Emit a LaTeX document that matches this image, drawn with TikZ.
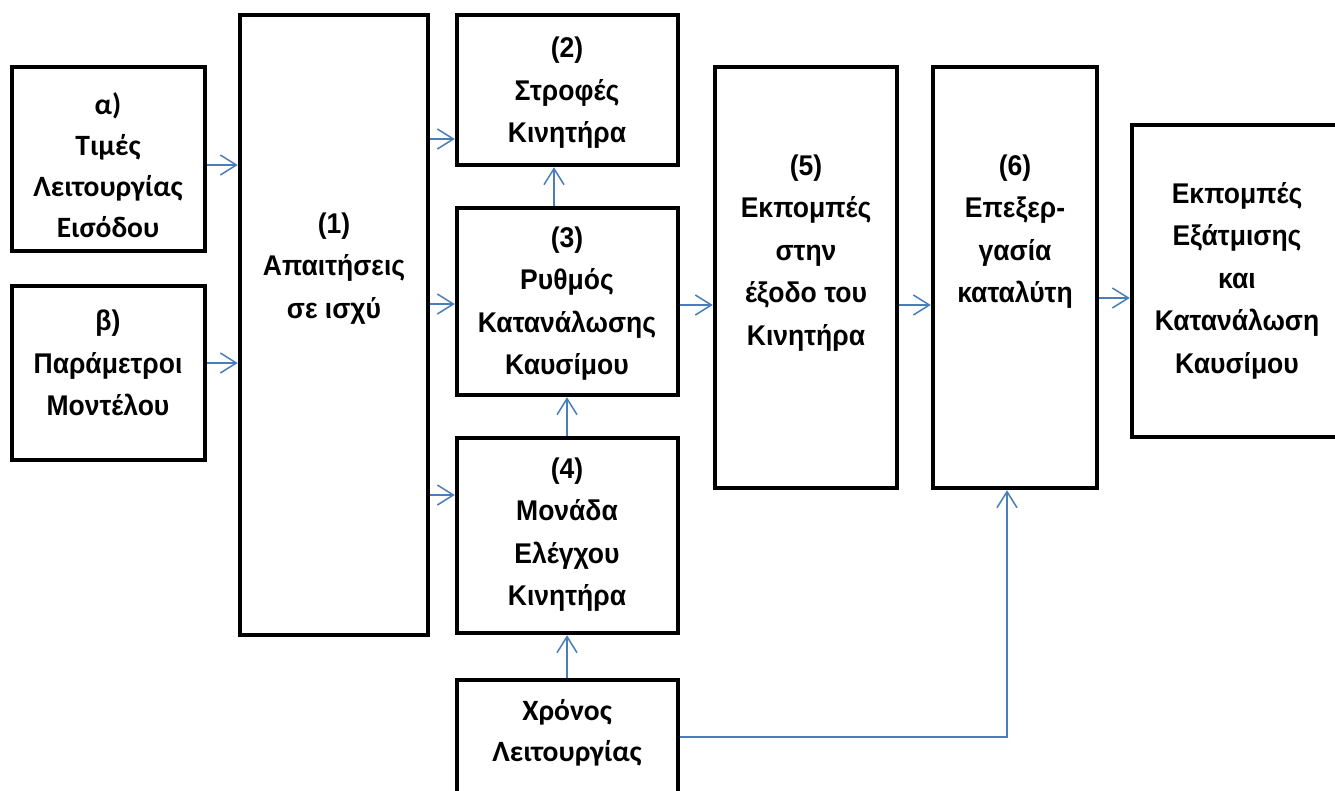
\documentclass[tikz,border=0pt]{standalone}
\usepackage{fontspec}
\setmainfont{Liberation Sans}[FakeStretch=0.93]
\newfontfamily\calfont{Carlito}
\usetikzlibrary{arrows.meta}
\definecolor{arrowblue}{RGB}{74,126,187}
\begin{document}
\begin{tikzpicture}[x=1pt,y=-1pt,
  box/.style={draw=black,line width=4.5pt,rectangle,inner sep=0pt,fill=white},
  lbl/.style={align=center,font=\fontsize{28.5}{42.5}\selectfont\bfseries,inner sep=0pt},
  clbl/.style={align=center,font=\fontsize{29.5}{41}\selectfont\calfont\bfseries,inner sep=0pt},
  arr/.style={draw=arrowblue,line width=1.5pt,-{Straight Barb[length=16pt,width=20pt,line width=1.5pt]}},
  conn/.style={draw=arrowblue,line width=1.5pt}]
\useasboundingbox[fill=white] (0,0) rectangle (1335,790);
% boxes
\node[box,minimum width=193pt,minimum height=184pt] (a) at (108.5,159) {};
\node[box,minimum width=193pt,minimum height=174pt] (b) at (108.5,373) {};
\node[box,minimum width=188pt,minimum height=620pt] (one) at (334,325) {};
\node[box,minimum width=221pt,minimum height=150pt] (two) at (567.5,90) {};
\node[box,minimum width=221pt,minimum height=187pt] (three) at (567.5,301.5) {};
\node[box,minimum width=221pt,minimum height=195pt] (four) at (567.5,535.5) {};
\node[box,minimum width=221pt,minimum height=120pt] (xr) at (567.5,740) {};
\node[box,minimum width=182pt,minimum height=421pt] (five) at (806,277.5) {};
\node[box,minimum width=164pt,minimum height=421pt] (six) at (1015,277.5) {};
\node[box,minimum width=213pt,minimum height=312pt] (fin) at (1238.5,281) {};
% texts
\node[clbl] (ta) at (108,165) {α)\\Τιμές\\Λειτουργίας\\Εισόδου};
\node[lbl] (tb) at (108,363) {β)\\Παράμετροι\\Μοντέλου};
\node[lbl] (t1) at (334,268.5) {(1)\\Απαιτήσεις\\σε ισχύ};
\node[lbl] (t2) at (567,93) {(2)\\Στροφές\\Κινητήρα};
\node[lbl] (t3) at (567,303.5) {(3)\\Ρυθμός\\Κατανάλωσης\\Καυσίμου};
\node[lbl] (t4) at (567,534.5) {(4)\\Μονάδα\\Ελέγχου\\Κινητήρα};
\node[clbl] (txr) at (567,732.5) {Χρόνος\\Λειτουργίας};
\node[lbl] (t5) at (806,253) {(5)\\Εκπομπές\\στην\\έξοδο του\\Κινητήρα};
\node[lbl] (t6) at (1015,231.5) {(6)\\Επεξερ-\\γασία\\καταλύτη};
\node[lbl] (tf) at (1237,280.5) {Εκπομπές\\Εξάτμισης\\και\\Κατανάλωση\\Καυσίμου};
% connectors
\draw[arr] (a.east |- 0,165) -- (one.west |- 0,165);
\draw[arr] (b.east |- 0,363) -- (one.west |- 0,363);
\draw[arr] (one.east |- 0,139) -- (two.west |- 0,139);
\draw[arr] (one.east |- 0,304) -- (three.west |- 0,304);
\draw[arr] (one.east |- 0,495) -- (four.west |- 0,495);
\draw[arr] (three.north -| 554,0) -- (two.south -| 554,0);
\draw[arr] (four.north -| 567,0) -- (three.south -| 567,0);
\draw[arr] (xr.north -| 567,0) -- (four.south -| 567,0);
\draw[arr] (three.east |- 0,305) -- (five.west |- 0,305);
\draw[arr] (five.east |- 0,305) -- (six.west |- 0,305);
\draw[arr] (six.east |- 0,298) -- (fin.west |- 0,298);
\draw[arr] (xr.east |- 0,737) -| (six.south -| 1007,0);
\end{tikzpicture}
\end{document}
